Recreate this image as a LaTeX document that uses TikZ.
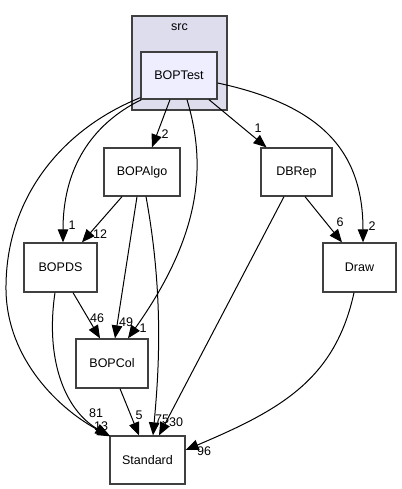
\documentclass[tikz,border=0pt]{standalone}
\usepackage{fontspec}
\setmainfont{Liberation Sans}
\usetikzlibrary{arrows.meta,positioning,calc}
\definecolor{boxline}{HTML}{404040}
\definecolor{clusterfill}{HTML}{DDDDEE}
\definecolor{topfill}{HTML}{EEEEFF}
\tikzset{
  dirnode/.style={draw=boxline, line width=1.3pt, fill=white, inner sep=0pt,
    font=\fontsize{12.5}{14}\selectfont},
  dep/.style={line width=1pt, -{Triangle[length=13pt,width=10.5pt]}},
  cnt/.style={inner sep=0pt, font=\fontsize{12.5}{14}\selectfont}
}

\begin{document}
\begin{tikzpicture}[x=1pt,y=-1pt]
\useasboundingbox (0,0) rectangle (401,489);
\fill[white] (0,0) rectangle (401,489);
% cluster src
\node[dirnode, fill=clusterfill, minimum width=95pt, minimum height=94pt] (src) at (179.5,63) {};
\node[cnt] (srclabel) at (179.5,27) {src};
% directories
\node[dirnode, fill=topfill, minimum width=76pt, minimum height=47pt] (BOPTest) at (179,75.5) {BOPTest};
\node[dirnode, minimum width=76pt, minimum height=48pt] (BOPAlgo) at (142,172) {BOPAlgo};
\node[dirnode, minimum width=71pt, minimum height=48pt] (DBRep) at (296.5,172) {DBRep};
\node[dirnode, minimum width=73pt, minimum height=49pt] (BOPDS) at (60.5,267.5) {BOPDS};
\node[dirnode, minimum width=73pt, minimum height=49pt] (Draw) at (359.5,267.5) {Draw};
\node[dirnode, minimum width=72pt, minimum height=49pt] (BOPCol) at (112,363.5) {BOPCol};
\node[dirnode, minimum width=75pt, minimum height=48pt] (Standard) at (147.5,460) {Standard};

% dependencies
\draw[dep] ([xshift=-9pt]BOPTest.south) -- ([xshift=10pt]BOPAlgo.north);
\draw[dep] ([xshift=30pt]BOPTest.south) -- ([xshift=-30pt]DBRep.north);
\draw[dep] ([yshift=-7.5pt]BOPTest.east) .. controls (320,105) and (363,150) .. ([xshift=3.5pt]Draw.north);
\draw[dep] ([xshift=8pt]BOPTest.south) .. controls (205,160) and (205,230) .. ([xshift=16pt]BOPCol.north);
\draw[dep] ([xshift=1pt]BOPTest.south west) .. controls (90,125) and (63,170) .. ([xshift=2.5pt]BOPDS.north);
\draw[dep] ([yshift=2pt]BOPTest.south west) .. controls (60,130) and (5,200) .. (6,290)
  .. controls (7,360) and (60,410) .. ([xshift=1pt,yshift=-1pt]Standard.north west);
\draw[dep] ([xshift=-20pt]BOPAlgo.south) -- ([xshift=21.5pt]BOPDS.north);
\draw[dep] ([xshift=-5pt]BOPAlgo.south) -- ([xshift=3pt]BOPCol.north);
\draw[dep] ([xshift=4pt]BOPAlgo.south) .. controls (165,300) and (158,380) .. ([xshift=5.5pt]Standard.north);
\draw[dep] ([xshift=-12.5pt]DBRep.south) -- ([xshift=11.5pt]Standard.north);
\draw[dep] ([xshift=8.5pt]DBRep.south) -- ([xshift=-17.5pt]Draw.north);
\draw[dep] ([xshift=12.5pt]BOPDS.south) -- ([xshift=-12pt]BOPCol.north);
\draw[dep] ([xshift=-5.5pt]BOPDS.south) .. controls (45,360) and (65,410) .. ([xshift=-1pt]Standard.north west);
\draw[dep] ([xshift=8pt]BOPCol.south) -- ([xshift=-8.5pt]Standard.north);
\draw[dep] ([xshift=-5.5pt]Draw.south) .. controls (335,380) and (280,410) .. ([yshift=10pt]Standard.east);

% counts
\node[cnt] (cAlgo) at (165,134) {2};
\node[cnt] (cDBRep) at (258,128) {1};
\node[cnt] (cDraw) at (372,226) {2};
\node[cnt] (cDrawDB) at (340,222) {6};
\node[cnt] (cDS) at (72,225) {1};
\node[cnt] (cDSAlgo) at (100,234) {12};
\node[cnt] (cColDS) at (97,318) {46};
\node[cnt] (cColAlgo) at (126,322) {49};
\node[cnt] (cColTest) at (143,328) {1};
\node[cnt] (cStdDS) at (96,413) {81};
\node[cnt] (cStdTest) at (101,426) {13};
\node[cnt] (cStdCol) at (139,415) {5};
\node[cnt] (cStdAlgo) at (162,419) {75};
\node[cnt] (cStdDB) at (176,422) {30};
\node[cnt] (cStdDraw) at (204,451) {96};
\end{tikzpicture}
\end{document}
